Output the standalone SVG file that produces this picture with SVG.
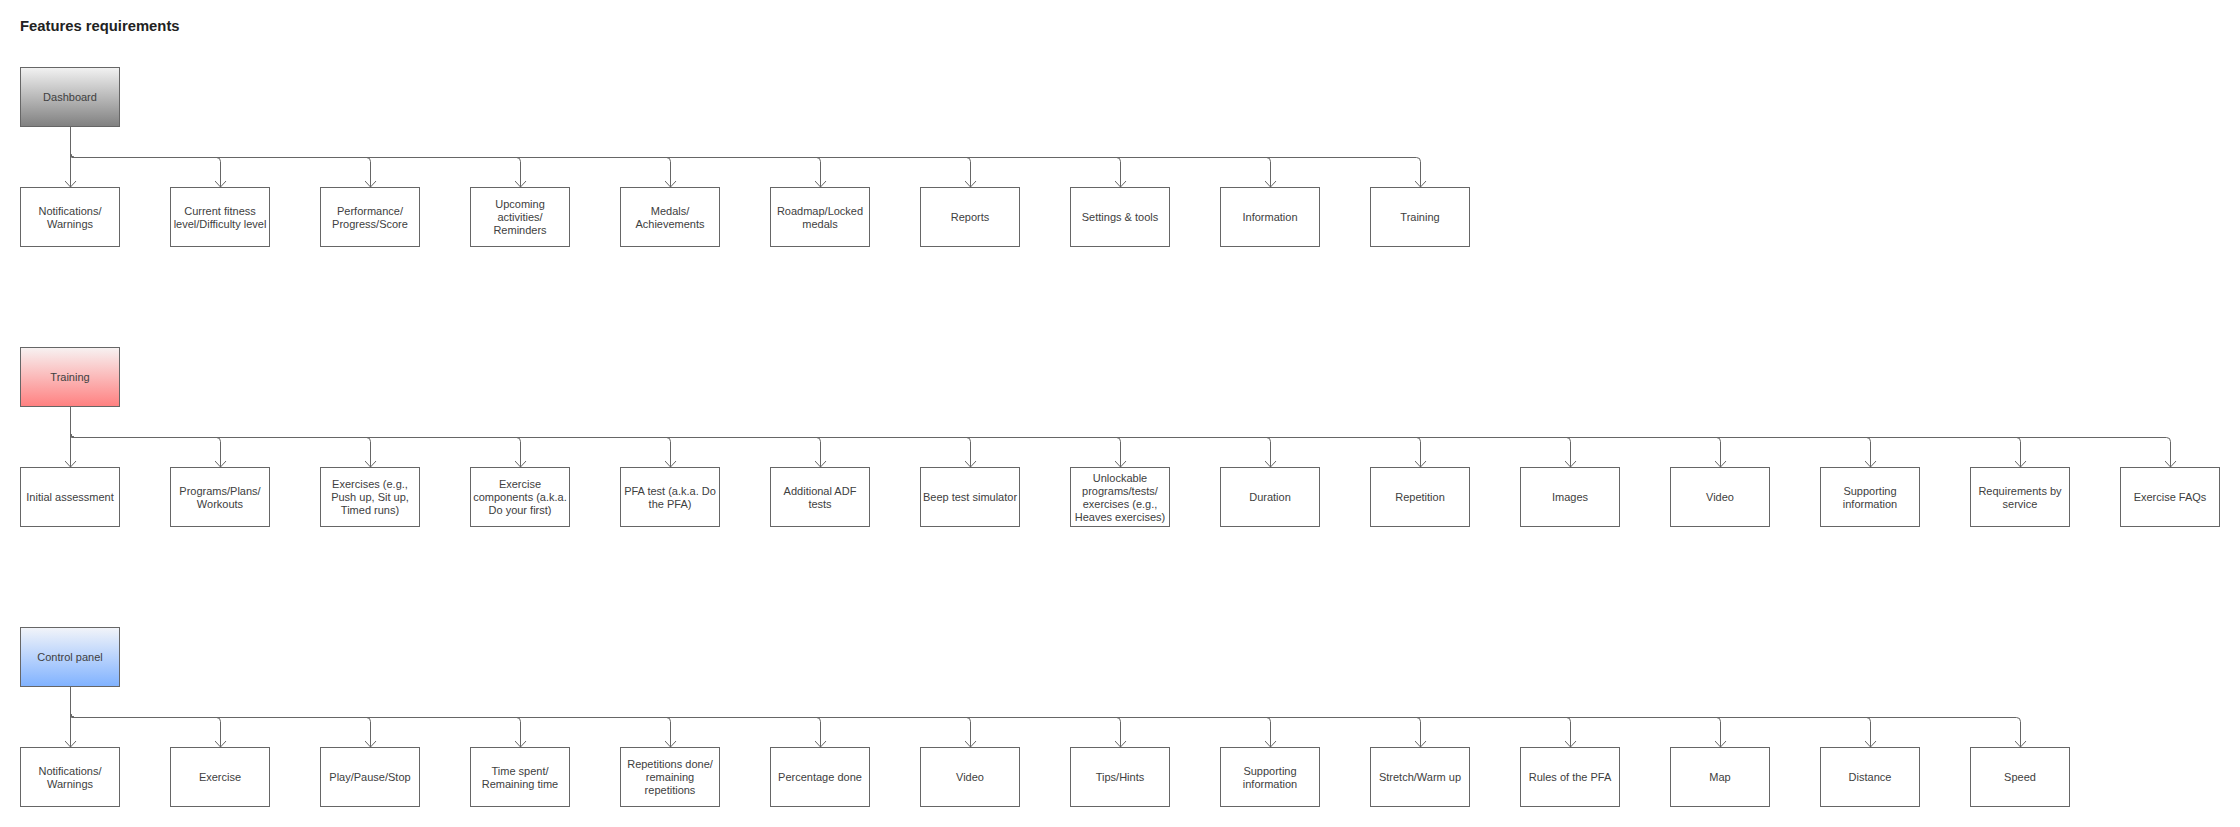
<svg xmlns="http://www.w3.org/2000/svg" width="2240" height="827" viewBox="0 0 2240 827">
<style>
.box{fill:#fff;stroke:#666;stroke-width:1}
.t{font-family:"Liberation Sans",Arial,sans-serif;font-size:11px;fill:#404040;text-anchor:middle}
.title{font-family:"Liberation Sans",Arial,sans-serif;font-size:14.8px;font-weight:bold;fill:#222}
.c{fill:none;stroke:#666;stroke-width:1;marker-end:url(#arr)}
</style>
<defs>
<linearGradient id="gGray" x1="0" y1="0" x2="0" y2="1"><stop offset="0" stop-color="#f2f2f2"/><stop offset="1" stop-color="#808080"/></linearGradient>
<linearGradient id="gRed" x1="0" y1="0" x2="0" y2="1"><stop offset="0" stop-color="#f7f2f2"/><stop offset="1" stop-color="#ff8080"/></linearGradient>
<linearGradient id="gBlue" x1="0" y1="0" x2="0" y2="1"><stop offset="0" stop-color="#f2f4f9"/><stop offset="1" stop-color="#80b2ff"/></linearGradient>
<marker id="arr" viewBox="0 0 12 12" refX="11" refY="6" markerWidth="12" markerHeight="12" markerUnits="userSpaceOnUse" orient="auto"><path d="M5,0.5 L11,6 L5,11.5" fill="none" stroke="#666" stroke-width="1"/></marker>
</defs>
<rect width="2240" height="827" fill="#fff"/>
<text class="title" x="20" y="31">Features requirements</text>

<g id="connectors">
<path class="c" d="M70.5,126.5 V187"/>
<path class="c" d="M70.5,126.5 V154 Q70.5,157.5 74,157.5 H216.5 Q220.5,157.5 220.5,161.5 V187"/>
<path class="c" d="M70.5,126.5 V154 Q70.5,157.5 74,157.5 H366.5 Q370.5,157.5 370.5,161.5 V187"/>
<path class="c" d="M70.5,126.5 V154 Q70.5,157.5 74,157.5 H516.5 Q520.5,157.5 520.5,161.5 V187"/>
<path class="c" d="M70.5,126.5 V154 Q70.5,157.5 74,157.5 H666.5 Q670.5,157.5 670.5,161.5 V187"/>
<path class="c" d="M70.5,126.5 V154 Q70.5,157.5 74,157.5 H816.5 Q820.5,157.5 820.5,161.5 V187"/>
<path class="c" d="M70.5,126.5 V154 Q70.5,157.5 74,157.5 H966.5 Q970.5,157.5 970.5,161.5 V187"/>
<path class="c" d="M70.5,126.5 V154 Q70.5,157.5 74,157.5 H1116.5 Q1120.5,157.5 1120.5,161.5 V187"/>
<path class="c" d="M70.5,126.5 V154 Q70.5,157.5 74,157.5 H1266.5 Q1270.5,157.5 1270.5,161.5 V187"/>
<path class="c" d="M70.5,126.5 V154 Q70.5,157.5 74,157.5 H1416.5 Q1420.5,157.5 1420.5,161.5 V187"/>

<path class="c" d="M70.5,406.5 V467"/>
<path class="c" d="M70.5,406.5 V434 Q70.5,437.5 74,437.5 H216.5 Q220.5,437.5 220.5,441.5 V467"/>
<path class="c" d="M70.5,406.5 V434 Q70.5,437.5 74,437.5 H366.5 Q370.5,437.5 370.5,441.5 V467"/>
<path class="c" d="M70.5,406.5 V434 Q70.5,437.5 74,437.5 H516.5 Q520.5,437.5 520.5,441.5 V467"/>
<path class="c" d="M70.5,406.5 V434 Q70.5,437.5 74,437.5 H666.5 Q670.5,437.5 670.5,441.5 V467"/>
<path class="c" d="M70.5,406.5 V434 Q70.5,437.5 74,437.5 H816.5 Q820.5,437.5 820.5,441.5 V467"/>
<path class="c" d="M70.5,406.5 V434 Q70.5,437.5 74,437.5 H966.5 Q970.5,437.5 970.5,441.5 V467"/>
<path class="c" d="M70.5,406.5 V434 Q70.5,437.5 74,437.5 H1116.5 Q1120.5,437.5 1120.5,441.5 V467"/>
<path class="c" d="M70.5,406.5 V434 Q70.5,437.5 74,437.5 H1266.5 Q1270.5,437.5 1270.5,441.5 V467"/>
<path class="c" d="M70.5,406.5 V434 Q70.5,437.5 74,437.5 H1416.5 Q1420.5,437.5 1420.5,441.5 V467"/>
<path class="c" d="M70.5,406.5 V434 Q70.5,437.5 74,437.5 H1566.5 Q1570.5,437.5 1570.5,441.5 V467"/>
<path class="c" d="M70.5,406.5 V434 Q70.5,437.5 74,437.5 H1716.5 Q1720.5,437.5 1720.5,441.5 V467"/>
<path class="c" d="M70.5,406.5 V434 Q70.5,437.5 74,437.5 H1866.5 Q1870.5,437.5 1870.5,441.5 V467"/>
<path class="c" d="M70.5,406.5 V434 Q70.5,437.5 74,437.5 H2016.5 Q2020.5,437.5 2020.5,441.5 V467"/>
<path class="c" d="M70.5,406.5 V434 Q70.5,437.5 74,437.5 H2166.5 Q2170.5,437.5 2170.5,441.5 V467"/>

<path class="c" d="M70.5,686.5 V747"/>
<path class="c" d="M70.5,686.5 V714 Q70.5,717.5 74,717.5 H216.5 Q220.5,717.5 220.5,721.5 V747"/>
<path class="c" d="M70.5,686.5 V714 Q70.5,717.5 74,717.5 H366.5 Q370.5,717.5 370.5,721.5 V747"/>
<path class="c" d="M70.5,686.5 V714 Q70.5,717.5 74,717.5 H516.5 Q520.5,717.5 520.5,721.5 V747"/>
<path class="c" d="M70.5,686.5 V714 Q70.5,717.5 74,717.5 H666.5 Q670.5,717.5 670.5,721.5 V747"/>
<path class="c" d="M70.5,686.5 V714 Q70.5,717.5 74,717.5 H816.5 Q820.5,717.5 820.5,721.5 V747"/>
<path class="c" d="M70.5,686.5 V714 Q70.5,717.5 74,717.5 H966.5 Q970.5,717.5 970.5,721.5 V747"/>
<path class="c" d="M70.5,686.5 V714 Q70.5,717.5 74,717.5 H1116.5 Q1120.5,717.5 1120.5,721.5 V747"/>
<path class="c" d="M70.5,686.5 V714 Q70.5,717.5 74,717.5 H1266.5 Q1270.5,717.5 1270.5,721.5 V747"/>
<path class="c" d="M70.5,686.5 V714 Q70.5,717.5 74,717.5 H1416.5 Q1420.5,717.5 1420.5,721.5 V747"/>
<path class="c" d="M70.5,686.5 V714 Q70.5,717.5 74,717.5 H1566.5 Q1570.5,717.5 1570.5,721.5 V747"/>
<path class="c" d="M70.5,686.5 V714 Q70.5,717.5 74,717.5 H1716.5 Q1720.5,717.5 1720.5,721.5 V747"/>
<path class="c" d="M70.5,686.5 V714 Q70.5,717.5 74,717.5 H1866.5 Q1870.5,717.5 1870.5,721.5 V747"/>
<path class="c" d="M70.5,686.5 V714 Q70.5,717.5 74,717.5 H2016.5 Q2020.5,717.5 2020.5,721.5 V747"/>
</g>

<!-- Dashboard row -->
<g id="dashboard"><rect x="20.5" y="67.5" width="99" height="59" fill="url(#gGray)" stroke="#666"/><text class="t" x="70" y="100.5">Dashboard</text></g>
<g id="d1"><rect class="box" x="20.5" y="187.5" width="99" height="59"/><text class="t" x="70" y="214.5">Notifications/</text><text class="t" x="70" y="227.5">Warnings</text></g>
<g id="d2"><rect class="box" x="170.5" y="187.5" width="99" height="59"/><text class="t" x="220" y="214.5">Current fitness</text><text class="t" x="220" y="227.5">level/Difficulty level</text></g>
<g id="d3"><rect class="box" x="320.5" y="187.5" width="99" height="59"/><text class="t" x="370" y="214.5">Performance/</text><text class="t" x="370" y="227.5">Progress/Score</text></g>
<g id="d4"><rect class="box" x="470.5" y="187.5" width="99" height="59"/><text class="t" x="520" y="208">Upcoming</text><text class="t" x="520" y="221">activities/</text><text class="t" x="520" y="234">Reminders</text></g>
<g id="d5"><rect class="box" x="620.5" y="187.5" width="99" height="59"/><text class="t" x="670" y="214.5">Medals/</text><text class="t" x="670" y="227.5">Achievements</text></g>
<g id="d6"><rect class="box" x="770.5" y="187.5" width="99" height="59"/><text class="t" x="820" y="214.5">Roadmap/Locked</text><text class="t" x="820" y="227.5">medals</text></g>
<g id="d7"><rect class="box" x="920.5" y="187.5" width="99" height="59"/><text class="t" x="970" y="221">Reports</text></g>
<g id="d8"><rect class="box" x="1070.5" y="187.5" width="99" height="59"/><text class="t" x="1120" y="221">Settings &amp; tools</text></g>
<g id="d9"><rect class="box" x="1220.5" y="187.5" width="99" height="59"/><text class="t" x="1270" y="221">Information</text></g>
<g id="d10"><rect class="box" x="1370.5" y="187.5" width="99" height="59"/><text class="t" x="1420" y="221">Training</text></g>

<!-- Training row -->
<g id="training"><rect x="20.5" y="347.5" width="99" height="59" fill="url(#gRed)" stroke="#666"/><text class="t" x="70" y="380.5">Training</text></g>
<g id="t1"><rect class="box" x="20.5" y="467.5" width="99" height="59"/><text class="t" x="70" y="501">Initial assessment</text></g>
<g id="t2"><rect class="box" x="170.5" y="467.5" width="99" height="59"/><text class="t" x="220" y="494.5">Programs/Plans/</text><text class="t" x="220" y="507.5">Workouts</text></g>
<g id="t3"><rect class="box" x="320.5" y="467.5" width="99" height="59"/><text class="t" x="370" y="488">Exercises (e.g.,</text><text class="t" x="370" y="501">Push up, Sit up,</text><text class="t" x="370" y="514">Timed runs)</text></g>
<g id="t4"><rect class="box" x="470.5" y="467.5" width="99" height="59"/><text class="t" x="520" y="488">Exercise</text><text class="t" x="520" y="501">components (a.k.a.</text><text class="t" x="520" y="514">Do your first)</text></g>
<g id="t5"><rect class="box" x="620.5" y="467.5" width="99" height="59"/><text class="t" x="670" y="494.5">PFA test (a.k.a. Do</text><text class="t" x="670" y="507.5">the PFA)</text></g>
<g id="t6"><rect class="box" x="770.5" y="467.5" width="99" height="59"/><text class="t" x="820" y="494.5">Additional ADF</text><text class="t" x="820" y="507.5">tests</text></g>
<g id="t7"><rect class="box" x="920.5" y="467.5" width="99" height="59"/><text class="t" x="970" y="501">Beep test simulator</text></g>
<g id="t8"><rect class="box" x="1070.5" y="467.5" width="99" height="59"/><text class="t" x="1120" y="481.5">Unlockable</text><text class="t" x="1120" y="494.5">programs/tests/</text><text class="t" x="1120" y="507.5">exercises (e.g.,</text><text class="t" x="1120" y="520.5">Heaves exercises)</text></g>
<g id="t9"><rect class="box" x="1220.5" y="467.5" width="99" height="59"/><text class="t" x="1270" y="501">Duration</text></g>
<g id="t10"><rect class="box" x="1370.5" y="467.5" width="99" height="59"/><text class="t" x="1420" y="501">Repetition</text></g>
<g id="t11"><rect class="box" x="1520.5" y="467.5" width="99" height="59"/><text class="t" x="1570" y="501">Images</text></g>
<g id="t12"><rect class="box" x="1670.5" y="467.5" width="99" height="59"/><text class="t" x="1720" y="501">Video</text></g>
<g id="t13"><rect class="box" x="1820.5" y="467.5" width="99" height="59"/><text class="t" x="1870" y="494.5">Supporting</text><text class="t" x="1870" y="507.5">information</text></g>
<g id="t14"><rect class="box" x="1970.5" y="467.5" width="99" height="59"/><text class="t" x="2020" y="494.5">Requirements by</text><text class="t" x="2020" y="507.5">service</text></g>
<g id="t15"><rect class="box" x="2120.5" y="467.5" width="99" height="59"/><text class="t" x="2170" y="501">Exercise FAQs</text></g>

<!-- Control panel row -->
<g id="controlpanel"><rect x="20.5" y="627.5" width="99" height="59" fill="url(#gBlue)" stroke="#666"/><text class="t" x="70" y="660.5">Control panel</text></g>
<g id="c1"><rect class="box" x="20.5" y="747.5" width="99" height="59"/><text class="t" x="70" y="774.5">Notifications/</text><text class="t" x="70" y="787.5">Warnings</text></g>
<g id="c2"><rect class="box" x="170.5" y="747.5" width="99" height="59"/><text class="t" x="220" y="781">Exercise</text></g>
<g id="c3"><rect class="box" x="320.5" y="747.5" width="99" height="59"/><text class="t" x="370" y="781">Play/Pause/Stop</text></g>
<g id="c4"><rect class="box" x="470.5" y="747.5" width="99" height="59"/><text class="t" x="520" y="774.5">Time spent/</text><text class="t" x="520" y="787.5">Remaining time</text></g>
<g id="c5"><rect class="box" x="620.5" y="747.5" width="99" height="59"/><text class="t" x="670" y="768">Repetitions done/</text><text class="t" x="670" y="781">remaining</text><text class="t" x="670" y="794">repetitions</text></g>
<g id="c6"><rect class="box" x="770.5" y="747.5" width="99" height="59"/><text class="t" x="820" y="781">Percentage done</text></g>
<g id="c7"><rect class="box" x="920.5" y="747.5" width="99" height="59"/><text class="t" x="970" y="781">Video</text></g>
<g id="c8"><rect class="box" x="1070.5" y="747.5" width="99" height="59"/><text class="t" x="1120" y="781">Tips/Hints</text></g>
<g id="c9"><rect class="box" x="1220.5" y="747.5" width="99" height="59"/><text class="t" x="1270" y="774.5">Supporting</text><text class="t" x="1270" y="787.5">information</text></g>
<g id="c10"><rect class="box" x="1370.5" y="747.5" width="99" height="59"/><text class="t" x="1420" y="781">Stretch/Warm up</text></g>
<g id="c11"><rect class="box" x="1520.5" y="747.5" width="99" height="59"/><text class="t" x="1570" y="781">Rules of the PFA</text></g>
<g id="c12"><rect class="box" x="1670.5" y="747.5" width="99" height="59"/><text class="t" x="1720" y="781">Map</text></g>
<g id="c13"><rect class="box" x="1820.5" y="747.5" width="99" height="59"/><text class="t" x="1870" y="781">Distance</text></g>
<g id="c14"><rect class="box" x="1970.5" y="747.5" width="99" height="59"/><text class="t" x="2020" y="781">Speed</text></g>
</svg>
